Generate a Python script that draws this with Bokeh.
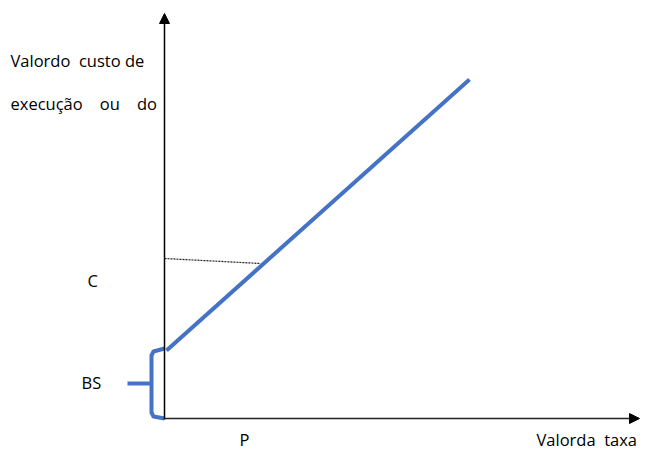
from bokeh.plotting import figure
from bokeh.models import Range1d, Arrow, NormalHead, ColumnDataSource
from bokeh.core.properties import value
from bokeh.embed import file_html
from bokeh.resources import INLINE

# Conceptual diagram data (units: origin at axis crossing)
axis_x_end = 475
axis_y_end = 405

cost_x = [2, 305]          # blue line (cost rises with tax value)
cost_y = [68, 339]

dotted_x = [0, 96]         # level C reference
dotted_y = [160, 155]

brace_x = [0, -11, -13, -13, -11, 0]   # BS brace
brace_y = [0, 2, 6, 63, 67, 70]
brace_tick_x = [-37, -13]
brace_tick_y = [35, 35]

NB = "\u00a0"
label_texts = ["Valordo" + NB * 2 + "custo de",
               "execução" + NB * 4 + "ou" + NB * 4 + "do",
               "C", "BS", "P", "Valorda" + NB * 2 + "taxa"]
label_x = [-154, -154, -77, -83, 75, 372]
label_y = [358, 315, 138, 36, -21, -21]

BLUE = "#4472C4"

p = figure(width=641, height=457, output_backend="svg", toolbar_location=None,
           x_range=Range1d(-164, 477), y_range=Range1d(-39, 418),
           min_border=0, outline_line_color=None)
p.axis.visible = False
p.grid.visible = False
p.background_fill_color = "white"

p.add_layout(Arrow(end=NormalHead(size=10, fill_color="black", line_color="black"),
                   x_start=0, y_start=-1, x_end=0, y_end=axis_y_end,
                   line_color="black", line_width=1.5))
p.add_layout(Arrow(end=NormalHead(size=10, fill_color="black", line_color="black"),
                   x_start=0, y_start=0, x_end=axis_x_end, y_end=0,
                   line_color="#222222", line_width=1.5))

p.line(dotted_x, dotted_y, line_color="#222222", line_width=1.2, line_dash="2 1")
p.line(cost_x, cost_y, line_color=BLUE, line_width=4)
p.line(brace_x, brace_y, line_color=BLUE, line_width=4, line_join="round")
p.line(brace_tick_x, brace_tick_y, line_color=BLUE, line_width=4)

src = ColumnDataSource(dict(x=label_x, y=label_y, t=label_texts))
p.text(x="x", y="y", text="t", source=src, text_font=value("Open Sans"),
       text_font_size="16.5px", text_align="left", text_baseline="middle",
       text_color="black")

open("out.html", "w").write(file_html(p, INLINE))
